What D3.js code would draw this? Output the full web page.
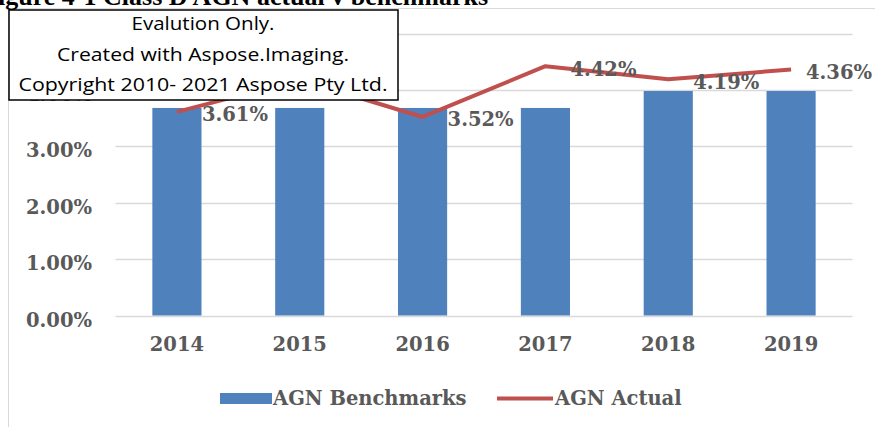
<!DOCTYPE html>
<html>
<head>
<meta charset="utf-8">
<script src="https://cdn.jsdelivr.net/npm/d3@7"></script>
<style>
  html, body { margin: 0; padding: 0; background: #fff; }
  svg { display: block; }
</style>
</head>
<body>
<svg id="chart" width="875" height="427"></svg>
<script>
const years = ["2014", "2015", "2016", "2017", "2018", "2019"];
const benchmarks = [3.68, 3.68, 3.68, 3.68, 3.98, 3.98];
const actual = [3.61, 4.18, 3.52, 4.42, 4.19, 4.36];
const yTicks = [0, 1, 2, 3, 4, 5];
const titleText = "Figure 4-1 Class D AGN actual v benchmarks";
const seriesNames = ["AGN Benchmarks", "AGN Actual"];
const watermarkLines = ["Evalution Only.", "Created with Aspose.Imaging.", "Copyright 2010- 2021 Aspose Pty Ltd."];

const W = 875, H = 427;
const svg = d3.select("#chart");
const grey = "#595959";
const labelFont = "'DejaVu Serif', serif";

// Chart frame
svg.append("rect").attr("x", 8.5).attr("y", 8.5).attr("width", W + 20).attr("height", H + 20)
  .attr("fill", "#fff").attr("stroke", "#d9d9d9").attr("stroke-width", 1);

// Title (cut off at top)
svg.append("text").attr("x", 488).attr("y", 5).attr("text-anchor", "end")
  .attr("font-family", "'Liberation Serif', 'Times New Roman', serif").attr("font-weight", "bold")
  .attr("font-size", 26).attr("fill", "#000").text(titleText);

const x = d3.scaleBand().domain(years).range([115.5, 852.5]).paddingInner(0.6).paddingOuter(0.3);
const y = d3.scaleLinear().domain([0, 5]).range([315.5, 33.5]);

// Gridlines
svg.append("g").selectAll("line").data(yTicks).join("line")
  .attr("x1", 115.5).attr("x2", 852.5)
  .attr("y1", d => Math.round(y(d)) + 0.5).attr("y2", d => Math.round(y(d)) + 0.5)
  .attr("stroke", "#d9d9d9").attr("stroke-width", 1.3);

// Y axis labels
svg.append("g").selectAll("text").data(yTicks).join("text")
  .attr("x", 92).attr("y", d => y(d) + 11)
  .attr("text-anchor", "end").attr("font-family", labelFont).attr("font-weight", "bold")
  .attr("font-size", 19.5).attr("fill", grey)
  .text(d => d3.format(".2f")(d) + "%");

// Bars
svg.append("g").selectAll("rect").data(years).join("rect")
  .attr("x", d => x(d)).attr("width", x.bandwidth())
  .attr("y", (d, i) => y(benchmarks[i])).attr("height", (d, i) => y(0) - y(benchmarks[i]))
  .attr("fill", "#4f81bd");

// X axis labels
svg.append("g").selectAll("text").data(years).join("text")
  .attr("x", d => x(d) + x.bandwidth() / 2).attr("y", 351)
  .attr("text-anchor", "middle").attr("font-family", labelFont).attr("font-weight", "bold")
  .attr("font-size", 19.5).attr("fill", grey).text(d => d);

// Line
const pts = years.map((d, i) => [x(d) + x.bandwidth() / 2, y(actual[i])]);
svg.append("path").attr("d", d3.line()(pts)).attr("fill", "none")
  .attr("stroke", "#c0504d").attr("stroke-width", 4).attr("stroke-linejoin", "round");

// Data labels
const lblG = svg.append("g");
pts.forEach((p, i) => {
  const t = lblG.append("text").attr("x", p[0] + 25).attr("y", p[1] + 9.5)
    .attr("font-family", labelFont).attr("font-weight", "bold")
    .attr("font-size", 19.5).attr("fill", grey)
    .text(d3.format(".2f")(actual[i]) + "%");
  const w = t.node().getComputedTextLength();
  if (p[0] + 25 + w > W - 3) t.attr("x", W - 3 - w);
});

// Legend
const lg = svg.append("g");
lg.append("rect").attr("x", 220).attr("y", 393).attr("width", 52).attr("height", 11).attr("fill", "#4f81bd");
lg.append("text").attr("x", 273).attr("y", 405).attr("font-family", labelFont).attr("font-weight", "bold")
  .attr("font-size", 19.5).attr("fill", grey).text(seriesNames[0]);
lg.append("line").attr("x1", 497).attr("x2", 553).attr("y1", 398.5).attr("y2", 398.5)
  .attr("stroke", "#c0504d").attr("stroke-width", 4);
lg.append("text").attr("x", 555).attr("y", 405).attr("font-family", labelFont).attr("font-weight", "bold")
  .attr("font-size", 19.5).attr("fill", grey).text(seriesNames[1]);

// Watermark box
svg.append("rect").attr("x", 9).attr("y", 10).attr("width", 389).attr("height", 90)
  .attr("fill", "#fff").attr("stroke", "#000").attr("stroke-width", 1.5);
const wmWidths = [143, 292, 369];
watermarkLines.forEach((s, i) => {
  svg.append("text").attr("x", 203).attr("y", 30 + i * 30.5).attr("text-anchor", "middle")
    .attr("font-family", "'Open Sans', 'DejaVu Sans', sans-serif").attr("font-size", 18.5)
    .attr("fill", "#000").attr("textLength", wmWidths[i]).attr("lengthAdjust", "spacingAndGlyphs")
    .text(s);
});
</script>
</body>
</html>
